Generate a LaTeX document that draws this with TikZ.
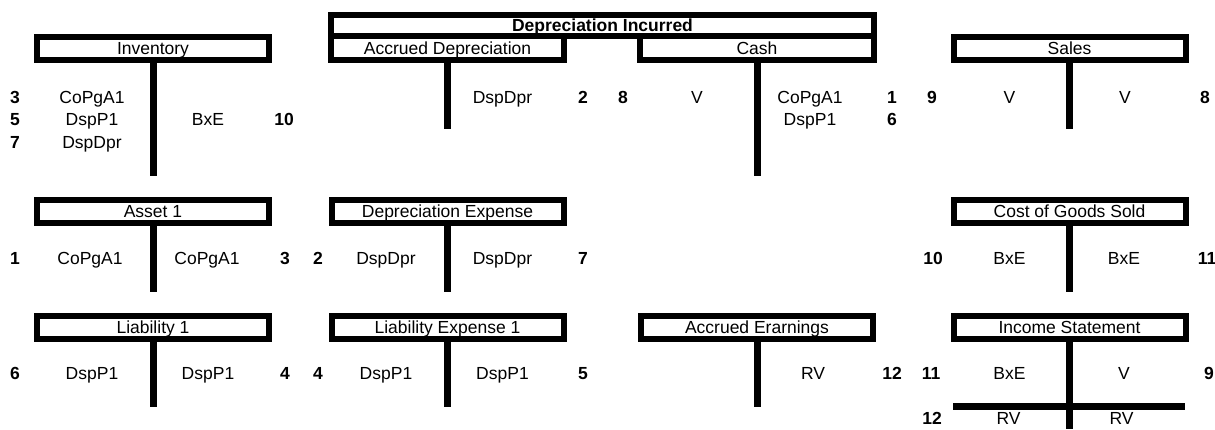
\documentclass[tikz,border=0pt]{standalone}
\usepackage{fontspec}
\setmainfont{Liberation Sans}
\begin{document}
\begin{tikzpicture}[x=1pt, y=-1pt,
  every node/.style={font=\fontsize{17.5}{20}\selectfont},
  acct/.style={draw, rectangle, line width=6pt, minimum width=232pt, minimum height=23pt, inner sep=0pt, text height=12pt, text depth=0pt},
  stem/.style={line width=7pt},
  amt/.style={inner sep=0pt, text height=12pt, text depth=0pt},
  num/.style={amt, font=\fontsize{17.5}{20}\selectfont\bfseries}]
\useasboundingbox (0,0) rectangle (1215,429);

% account headers
\node[acct, minimum width=543pt, minimum height=21pt, font=\fontsize{17.5}{20}\selectfont\bfseries] (depinc) at (602.5,25.5) {Depreciation Incurred};
\node[acct] (inv) at (153,48.5) {Inventory};
\node[acct, minimum width=233pt, minimum height=24pt] (accdep) at (447.5,48) {Accrued Depreciation};
\node[acct, minimum width=234pt, minimum height=24pt] (cash) at (757,48) {Cash};
\node[acct] (sales) at (1069.5,48.5) {Sales};
\node[acct] (asset) at (153,211.5) {Asset 1};
\node[acct] (depexp) at (447.5,211.5) {Depreciation Expense};
\node[acct] (cogs) at (1069.5,211.5) {Cost of Goods Sold};
\node[acct] (liab) at (153,327.5) {Liability 1};
\node[acct] (liabexp) at (447.5,327.5) {Liability Expense 1};
\node[acct] (accearn) at (757,327.5) {Accrued Erarnings};
\node[acct] (incst) at (1069.5,327.5) {Income Statement};

% stems of the T accounts
\foreach \a/\y in {inv/176, accdep/129, cash/176, sales/129, asset/292, depexp/292, cogs/292, liab/407, liabexp/407, accearn/407, incst/429} {
  \coordinate (\a-end) at (\a.south |- 0,\y);
  \draw[stem] (\a.south) -- (\a-end);
}
\coordinate (incst-w) at (953,406.5);
\coordinate (incst-e) at (1185,406.5);
\draw[stem] (incst-w) -- (incst-e);

% entries
\foreach \n/\x/\y/\t in {inv-d1/92/97/CoPgA1, inv-d2/92/119/DspP1, inv-d3/92/142/DspDpr, inv-c1/208/119/BxE,
    accdep-c1/502.5/97/DspDpr, cash-d1/697/97/V, cash-c1/810/97/CoPgA1, cash-c2/810/119/DspP1,
    sales-d1/1009.5/97/V, sales-c1/1125/97/V,
    asset-d1/90/258/CoPgA1, asset-c1/207/258/CoPgA1, depexp-d1/386/258/DspDpr, depexp-c1/502.5/258/DspDpr,
    cogs-d1/1009.5/258/BxE, cogs-c1/1124/258/BxE,
    liab-d1/92/373/DspP1, liab-c1/208/373/DspP1, liabexp-d1/386/373/DspP1, liabexp-c1/502.5/373/DspP1,
    accearn-c1/813/373/RV, incst-d1/1009.5/373/BxE, incst-c1/1124/373/V,
    incst-d2/1008.5/418.5/RV, incst-c2/1121.5/418.5/RV}
  \node[amt] (\n) at (\x,\y) {\t};

% entry numbers
\foreach \n/\x/\y/\t in {inv-dn1/15/97/3, inv-dn2/15/119/5, inv-dn3/15/142/7, inv-cn1/284/119/10,
    accdep-cn1/583/97/2, cash-dn1/623/97/8, cash-cn1/892/97/1, cash-cn2/892/119/6,
    sales-dn1/932/97/9, sales-cn1/1205/97/8,
    asset-dn1/15/258/1, asset-cn1/285/258/3, depexp-dn1/318/258/2, depexp-cn1/583/258/7,
    cogs-dn1/933/258/10, cogs-cn1/1207/258/11,
    liab-dn1/15/373/6, liab-cn1/285/373/4, liabexp-dn1/318/373/4, liabexp-cn1/583/373/5,
    accearn-cn1/892/373/12, incst-dn1/931/373/11, incst-cn1/1209/373/9,
    incst-dn2/932/418.5/12}
  \node[num] (\n) at (\x,\y) {\t};
\end{tikzpicture}
\end{document}
